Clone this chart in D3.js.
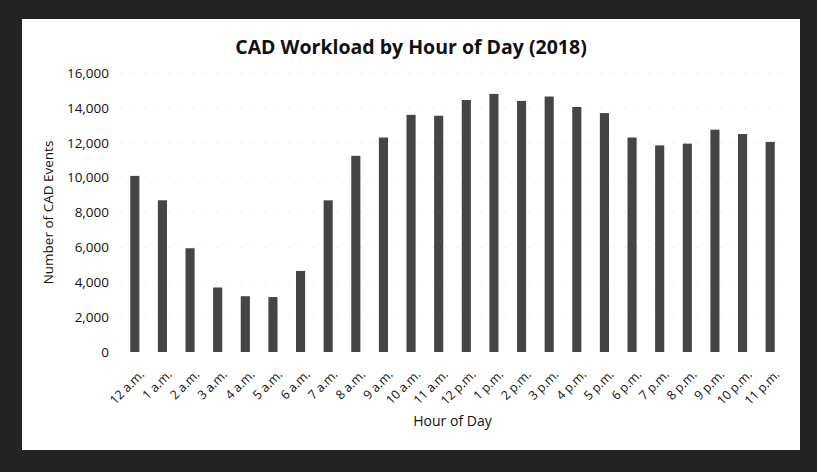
<!DOCTYPE html>
<html>
<head>
<meta charset="utf-8">
<script src="https://cdn.jsdelivr.net/npm/d3@7"></script>
<style>
  body { margin: 0; background: #fff; }
  text { font-family: "Open Sans", "Noto Sans", sans-serif; fill: #111; }
</style>
</head>
<body>
<svg id="chart" width="817" height="472"></svg>
<script>
const hours = ["12 a.m.", "1 a.m.", "2 a.m.", "3 a.m.", "4 a.m.", "5 a.m.", "6 a.m.", "7 a.m.",
  "8 a.m.", "9 a.m.", "10 a.m.", "11 a.m.", "12 p.m.", "1 p.m.", "2 p.m.", "3 p.m.",
  "4 p.m.", "5 p.m.", "6 p.m.", "7 p.m.", "8 p.m.", "9 p.m.", "10 p.m.", "11 p.m."];
const events = [10100, 8700, 5950, 3700, 3200, 3150, 4650, 8700,
  11250, 12300, 13600, 13550, 14450, 14800, 14400, 14650,
  14050, 13700, 12300, 11850, 11950, 12750, 12500, 12050];
const yTicks = [0, 2000, 4000, 6000, 8000, 10000, 12000, 14000, 16000];

const svg = d3.select("#chart");
const W = 817, H = 472;
const margin = {left: 121, right: 33, top: 73, bottom: 120};

// scanned dark frame
svg.append("rect").attr("width", W).attr("height", H).attr("fill", "#232323");
svg.append("rect")
  .attr("x", 22).attr("y", 19)
  .attr("width", 778).attr("height", 431)
  .attr("fill", "#fff");

const x = d3.scaleBand()
  .domain(hours)
  .range([margin.left, W - margin.right])
  .paddingInner(0.67)
  .paddingOuter(0.335);

const y = d3.scaleLinear()
  .domain([0, 16000])
  .range([H - margin.bottom, margin.top]);

// faint gridlines (barely visible in the scan)
svg.append("g")
  .selectAll("line")
  .data(yTicks.slice(1))
  .enter()
  .append("line")
    .attr("x1", margin.left)
    .attr("x2", W - margin.right)
    .attr("y1", d => y(d))
    .attr("y2", d => y(d))
    .style("stroke", "#d0d0d0")
    .style("stroke-width", 0.8)
    .style("stroke-dasharray", "1,11");

const yAxis = svg.append("g")
  .attr("transform", "translate(" + (margin.left - 12) + ",0)")
  .call(d3.axisLeft(y).tickValues(yTicks).tickSize(0).tickFormat(d3.format(",")));
yAxis.select(".domain").remove();
yAxis.selectAll("text")
  .attr("x", 0)
  .style("font-size", "13.5px");

svg.append("g")
  .selectAll("rect")
  .data(events)
  .enter()
  .append("rect")
    .attr("x", (d, i) => x(hours[i]))
    .attr("y", d => y(d))
    .attr("width", x.bandwidth())
    .attr("height", d => y(0) - y(d))
    .style("fill", "#454545");

const xAxis = svg.append("g")
  .attr("transform", "translate(0," + y(0) + ")")
  .call(d3.axisBottom(x).tickSize(0));
xAxis.select(".domain").remove();
xAxis.selectAll("text")
  .attr("text-anchor", "end")
  .attr("dy", "0.35em")
  .attr("transform", "translate(5,18) rotate(-45)")
  .style("font-size", "12.5px");

svg.append("text")
  .attr("x", (margin.left + W - margin.right) / 2)
  .attr("y", 426)
  .attr("text-anchor", "middle")
  .style("font-size", "14px")
  .text("Hour of Day");

svg.append("text")
  .attr("transform", "translate(53," + y(8000) + ") rotate(-90)")
  .attr("text-anchor", "middle")
  .style("font-size", "13.5px")
  .text("Number of CAD Events");

svg.append("text")
  .attr("x", 411)
  .attr("y", 54)
  .attr("text-anchor", "middle")
  .style("font-size", "19.5px")
  .style("font-weight", "bold")
  .text("CAD Workload by Hour of Day (2018)");
</script>
</body>
</html>
